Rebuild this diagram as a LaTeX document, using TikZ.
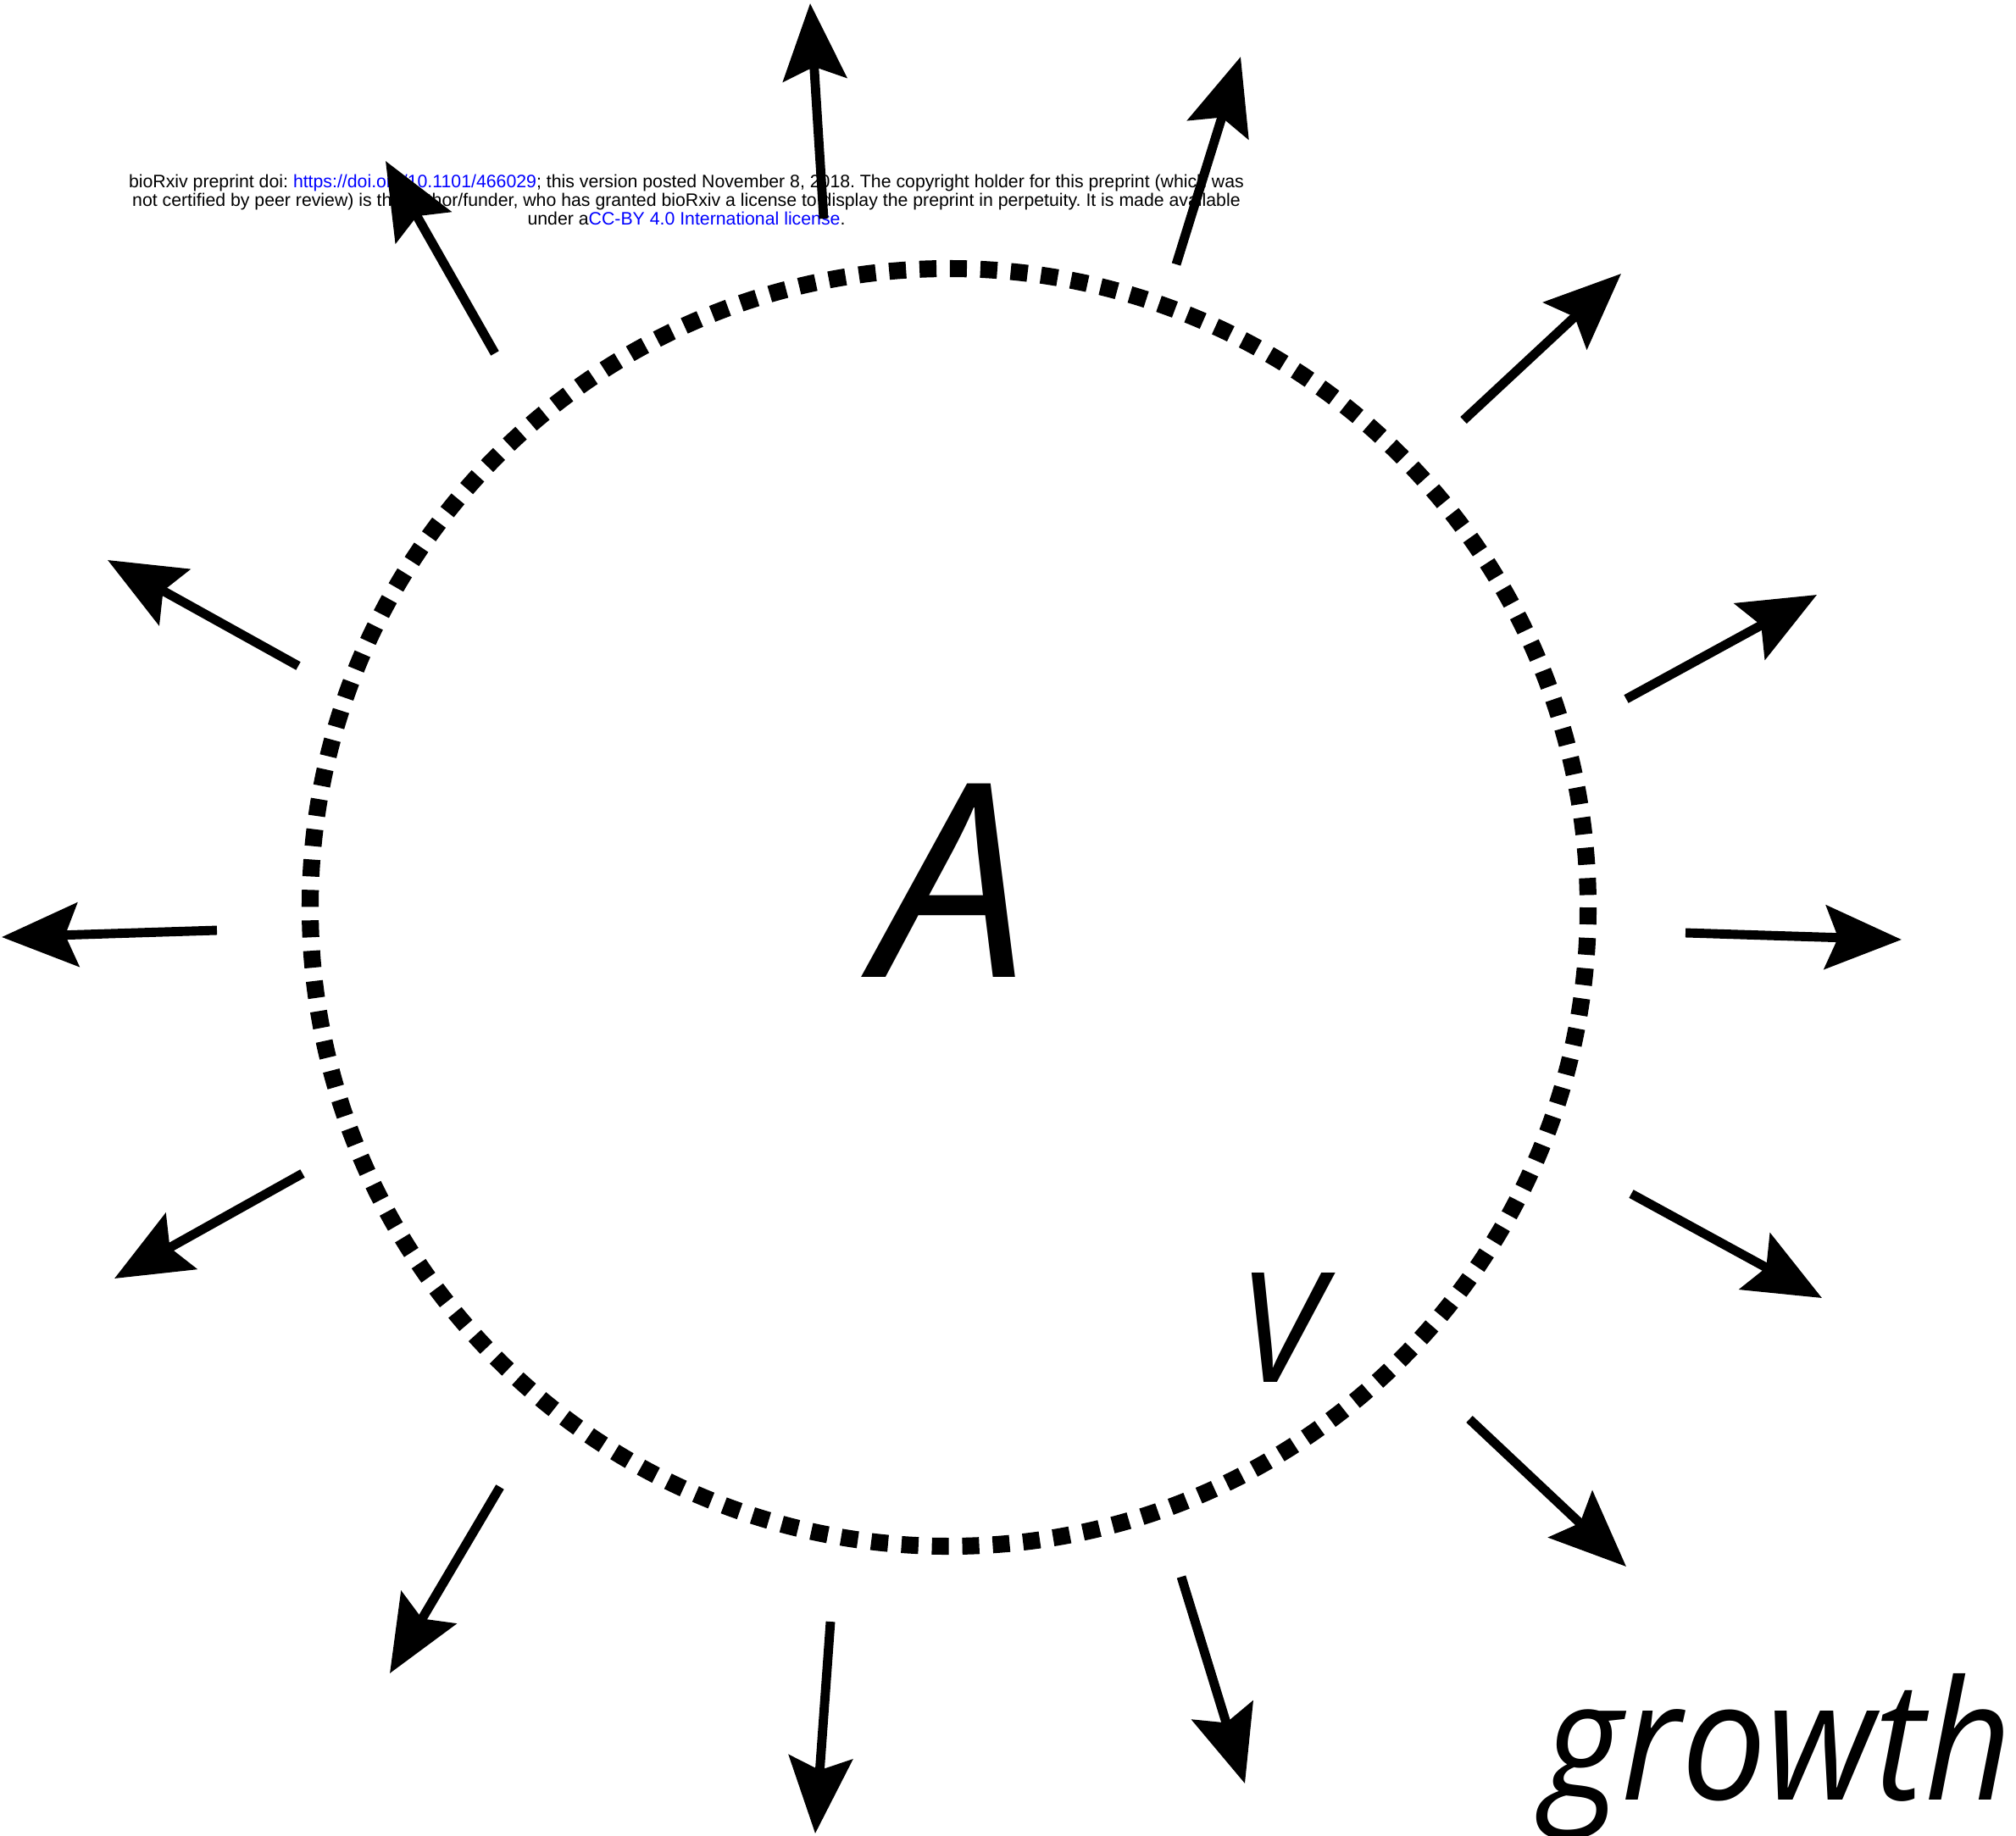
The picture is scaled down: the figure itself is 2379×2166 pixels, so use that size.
\documentclass[tikz,border=0pt]{standalone}
\usepackage{fontspec}
\setmainfont{Liberation Sans}
\newfontfamily\osans{Open Sans}
\usetikzlibrary{arrows.meta}
\definecolor{linkblue}{RGB}{0,0,255}
\begin{document}
\begin{tikzpicture}[x=0.01cm,y=-0.01cm,
  growarrow/.style={line width=3.1pt, -{Stealth[length=25.6pt,width=21.3pt,inset=4.3pt]}},
  ring/.style={line width=5.7pt, dash pattern=on 5.7pt off 4.51pt},
  hdr/.style={font=\fontsize{6.05pt}{6.26pt}\selectfont, align=center, inner sep=0pt},
  biglabel/.style={inner sep=0pt, anchor=base}]
\useasboundingbox (0,0) rectangle (2379,2166);
\node[hdr] (hdr) at (810,236) {\frenchspacing bioRxiv preprint doi: \textcolor{linkblue}{https://doi.org/10.1101/466029}; this version posted November 8, 2018. The copyright holder for this preprint (which was\\
\frenchspacing not certified by peer review) is the author/funder, who has granted bioRxiv a license to display the preprint in perpetuity. It is made available\\
\frenchspacing under a\textcolor{linkblue}{CC-BY 4.0 International license}.};
\draw[ring] (1120,1071) circle[radius=754];
\node[biglabel, font=\osans\itshape\fontsize{91pt}{94pt}\selectfont] (A) at (1124,1153) {A};
\node[biglabel, font=\osans\itshape\fontsize{51.4pt}{54pt}\selectfont] (V) at (1510,1631) {V};
\node[biglabel, anchor=base east, font=\osans\itshape\fontsize{55.8pt}{58pt}\selectfont] (growth) at (2375,2124) {\scalebox{0.91}[1]{growth}};
\foreach \i/\tx/\ty/\hx/\hy in {
  1/972/258/956/4,
  2/1388/312/1464/67,
  3/584/417/455/190,
  4/1727/496/1913/323,
  5/1919/825/2144/702,
  6/1989/1101/2244/1109,
  7/1925/1409/2150/1532,
  8/1734/1675/1919/1849,
  9/1394/1861/1469/2105,
  10/980/1914/962/2164,
  11/590/1755/460/1975,
  12/357/1385/135/1509,
  13/256/1098/2/1106,
  14/352/786/127/661} {
  \coordinate (t\i) at (\tx,\ty);
  \coordinate (h\i) at (\hx,\hy);
  \draw[growarrow] (t\i) -- (h\i);
}
\end{tikzpicture}
\end{document}
